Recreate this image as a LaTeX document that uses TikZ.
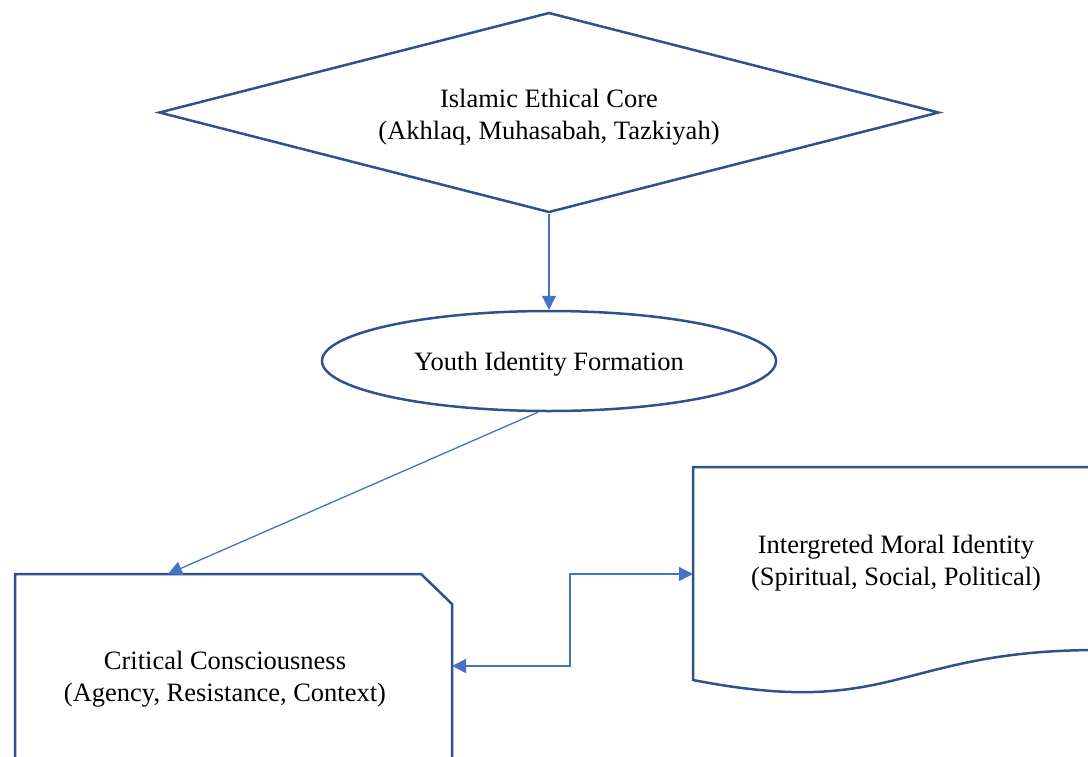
\documentclass[tikz,border=0pt]{standalone}
\usepackage{fontspec}
\setmainfont{Liberation Serif}
\usepackage{tikz}
\usetikzlibrary{arrows.meta,shapes.geometric,calc}

\definecolor{shapeblue}{RGB}{47,82,143}
\definecolor{linkblue}{RGB}{68,114,196}

\begin{document}
\begin{tikzpicture}[x=0.5pt,y=-0.5pt]
    \fontsize{13.25}{16}\selectfont

    \tikzset{SO/.style={draw=shapeblue,line width=1.25pt,line join=miter}}
    \tikzset{DM/.style={SO,diamond,shape aspect=3.9,minimum width=390pt,minimum height=100pt,inner sep=0pt,align=center}}
    \tikzset{EL/.style={SO,ellipse,minimum width=227pt,minimum height=50pt,inner sep=0pt}}
    \tikzset{TX/.style={align=center,inner sep=0pt}}
    \tikzset{CN/.style={draw=linkblue,line width=0.65pt,-{Triangle[length=7pt,width=7pt]}}}

    \useasboundingbox (0,0) rectangle (1088,756);
    \clip (0,0) rectangle (1088,756);

    % shapes
    \node (core) [DM] at (549,112.5) {};
    \node (coretext) [TX] at (549,117.5) {Islamic Ethical Core\\(Akhlaq, Muhasabah, Tazkiyah)};
    \node (youth) [EL] at (549,361) {};
    \node (youthtext) [TX] at (549,364) {Youth Identity Formation};

    \path[SO] (15,800) -- (15,574) -- (421,574) -- (452,604) -- (452,800);
    \node (crit) [TX] at (225,679) {Critical Consciousness\\(Agency, Resistance, Context)};

    \path[SO] (693,467) -- (1099,467) -- (1099,650)
        .. controls (896,650) and (896,719.5) .. (693,680) -- cycle;
    \node (integ) [TX] at (896,563) {Intergreted Moral Identity\\(Spiritual, Social, Political)};

    \coordinate (critTop) at (168,574);
    \coordinate (critR) at (452,666);
    \coordinate (integL) at (693,574);

    % connectors
    \draw[CN] (core.south) -- (youth.north);
    \draw[CN] (youth.258) -- (critTop);
    \draw[CN,{Triangle[length=7pt,width=7pt]}-{Triangle[length=7pt,width=7pt]}]
        (critR) -- ++(118,0) |- (integL);
\end{tikzpicture}
\end{document}
